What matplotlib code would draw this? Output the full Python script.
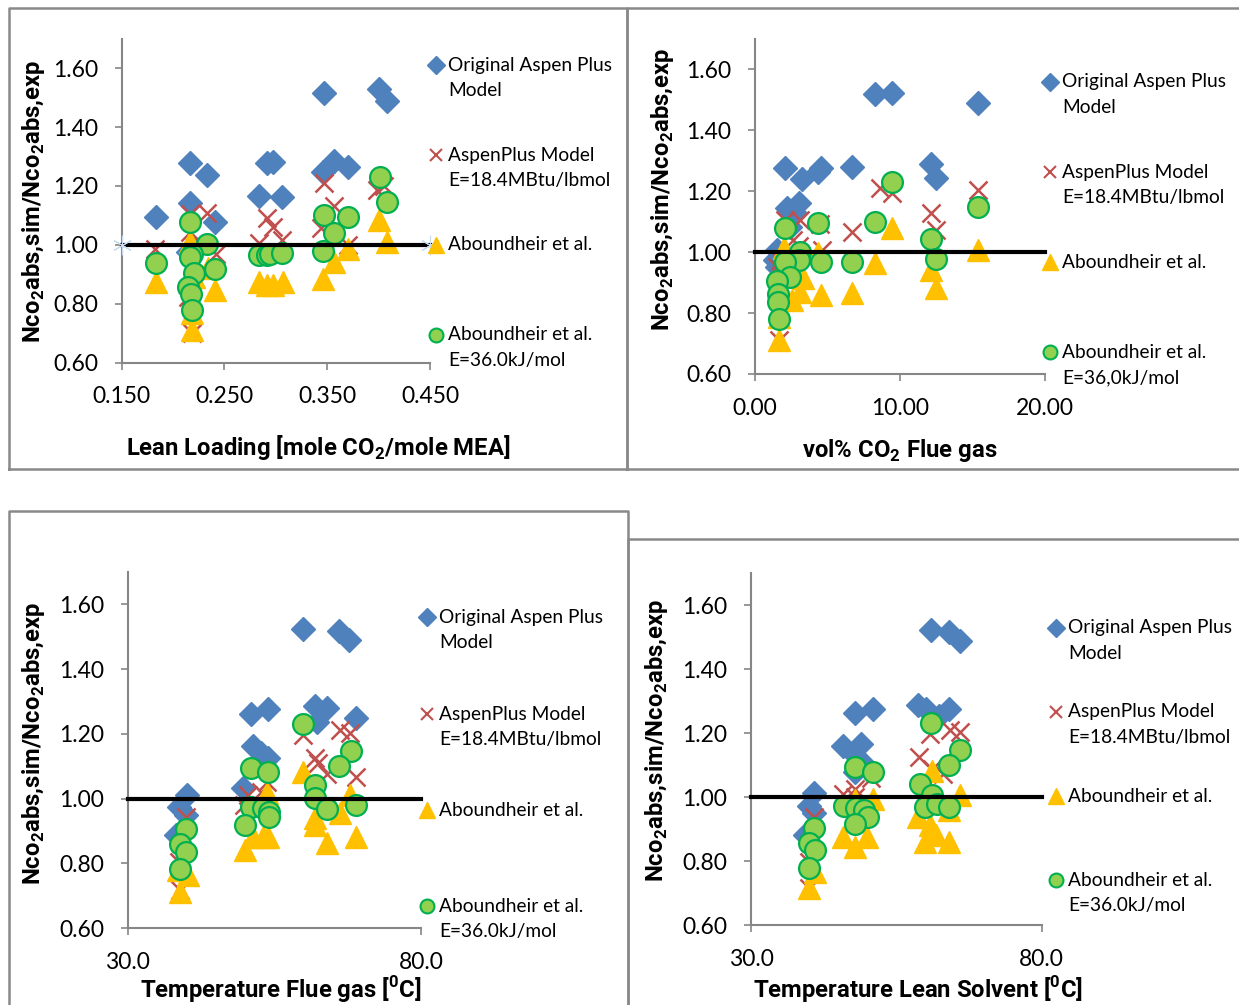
import matplotlib
matplotlib.use("Agg")
import matplotlib.pyplot as plt
from matplotlib.lines import Line2D

plt.rcParams['font.family'] = ['Lato', 'DejaVu Sans']
plt.rcParams['mathtext.fontset'] = 'custom'
plt.rcParams['mathtext.rm'] = 'Roboto:bold'
plt.rcParams['mathtext.bf'] = 'Roboto:bold'

W, H = 1239, 1005

# ---- data ----
# panel 1: lean loading
p1_orig_x = [0.183, 0.216, 0.233, 0.216, 0.241, 0.215, 0.219, 0.284, 0.291, 0.297, 0.306, 0.347, 0.400, 0.408, 0.346, 0.357, 0.370]
p1_orig_y = [1.096, 1.277, 1.238, 1.141, 1.079, 0.975, 0.995, 1.166, 1.277, 1.280, 1.162, 1.517, 1.529, 1.490, 1.246, 1.286, 1.263]
p1_asp_x = [0.182, 0.216, 0.233, 0.216, 0.242, 0.215, 0.218, 0.284, 0.291, 0.297, 0.306, 0.347, 0.357, 0.344, 0.370, 0.398, 0.405]
p1_asp_y = [0.985, 1.105, 1.107, 1.045, 0.970, 0.824, 0.700, 1.005, 1.090, 1.062, 1.017, 1.209, 1.132, 1.056, 1.000, 1.185, 1.200]
p1_abo_x = [0.183, 0.216, 0.218, 0.218, 0.241, 0.234, 0.220, 0.284, 0.291, 0.297, 0.307, 0.346, 0.357, 0.370, 0.400, 0.408]
p1_abo_y = [0.875, 1.010, 0.768, 0.710, 0.847, 0.920, 0.890, 0.875, 0.864, 0.864, 0.875, 0.883, 0.943, 0.985, 1.085, 1.011]
p1_abe_x = [0.183, 0.216, 0.233, 0.218, 0.216, 0.220, 0.241, 0.215, 0.217, 0.218, 0.284, 0.291, 0.294, 0.306, 0.347, 0.357, 0.370, 0.346, 0.401, 0.408]
p1_abe_y = [0.940, 1.079, 1.003, 0.970, 0.960, 0.906, 0.917, 0.858, 0.833, 0.779, 0.966, 0.966, 0.968, 0.971, 1.102, 1.042, 1.096, 0.980, 1.232, 1.147]

# panel 2: vol% CO2 flue gas
p2_orig_x = [2.07, 3.21, 4.36, 4.55, 6.66, 8.27, 9.41, 15.34, 12.1, 12.5, 2.18, 3.05, 2.76, 1.49, 1.38, 2.41, 1.50]
p2_orig_y = [1.277, 1.239, 1.264, 1.277, 1.281, 1.518, 1.523, 1.490, 1.288, 1.244, 1.144, 1.162, 1.127, 1.007, 0.974, 1.083, 0.950]
p2_asp_x = [8.61, 9.41, 6.66, 12.1, 12.5, 15.34, 3.10, 4.48, 4.60, 2.07, 1.72, 2.64, 1.68, 3.00, 1.50]
p2_asp_y = [1.209, 1.193, 1.067, 1.127, 1.073, 1.204, 1.105, 1.094, 1.007, 1.105, 0.974, 1.040, 0.710, 1.020, 0.950]
p2_abo_x = [9.41, 8.27, 6.66, 4.55, 15.34, 12.1, 12.5, 3.33, 3.10, 2.53, 2.02, 1.65, 1.65, 4.36, 1.80]
p2_abo_y = [1.078, 0.963, 0.865, 0.859, 1.007, 0.941, 0.881, 0.914, 0.870, 0.843, 1.012, 0.788, 0.712, 0.996, 0.870]
p2_abe_x = [2.07, 4.36, 9.41, 8.27, 6.66, 4.55, 12.1, 12.5, 15.34, 3.10, 3.00, 2.07, 2.41, 1.54, 1.61, 1.61, 1.68]
p2_abe_y = [1.080, 1.097, 1.229, 1.100, 0.967, 0.967, 1.042, 0.977, 1.149, 1.002, 0.974, 0.969, 0.917, 0.906, 0.863, 0.835, 0.779]

# panel 3: temperature flue gas
p3_orig_x = [40.1, 38.8, 39.9, 38.2, 51.1, 54.0, 51.4, 52.8, 54.0, 49.7, 59.9, 66.1, 67.8, 61.9, 63.9, 62.2, 69.0]
p3_orig_y = [1.012, 0.973, 0.950, 0.888, 1.262, 1.276, 1.163, 1.142, 1.125, 1.033, 1.523, 1.519, 1.490, 1.286, 1.280, 1.238, 1.248]
p3_asp_x = [59.9, 61.9, 62.5, 63.9, 66.2, 67.9, 69.0, 50.5, 52.8, 53.8, 39.9, 38.8, 38.9, 49.9]
p3_asp_y = [1.197, 1.125, 1.109, 1.076, 1.212, 1.202, 1.068, 1.010, 1.020, 1.050, 0.945, 0.806, 0.718, 0.980]
p3_abo_x = [59.9, 61.9, 61.9, 63.9, 66.2, 67.9, 69.0, 50.0, 51.4, 53.1, 54.0, 53.7, 38.9, 40.3, 38.6]
p3_abo_y = [1.083, 0.940, 0.920, 0.862, 0.955, 1.012, 0.883, 0.842, 0.883, 0.883, 0.883, 1.017, 0.713, 0.765, 0.780]
p3_abe_x = [39.9, 38.9, 39.9, 38.9, 51.0, 54.0, 51.0, 53.1, 54.1, 54.1, 50.0, 59.9, 68.0, 66.1, 61.9, 61.9, 64.0, 69.0]
p3_abe_y = [0.908, 0.859, 0.836, 0.782, 1.096, 1.081, 0.973, 0.970, 0.960, 0.943, 0.919, 1.231, 1.148, 1.101, 1.042, 1.001, 0.968, 0.980]

# panel 4: temperature lean solvent
p4_orig_x = [40.8, 39.9, 40.8, 39.3, 47.9, 50.9, 45.9, 49.0, 47.6, 49.6, 47.9, 61.0, 64.0, 66.0, 58.8, 60.1, 64.0, 62.4]
p4_orig_y = [1.013, 0.974, 0.951, 0.881, 1.262, 1.277, 1.161, 1.166, 1.137, 1.100, 1.078, 1.524, 1.516, 1.488, 1.288, 1.277, 1.277, 1.255]
p4_asp_x = [64.2, 66.0, 60.8, 58.9, 61.1, 63.1, 45.9, 47.9, 50.7, 47.9, 40.8, 39.9, 39.9]
p4_asp_y = [1.211, 1.203, 1.197, 1.125, 1.089, 1.073, 1.010, 1.025, 1.060, 1.000, 0.938, 0.798, 0.715]
p4_abo_x = [61.1, 66.0, 58.8, 60.8, 61.9, 60.0, 64.0, 50.9, 45.9, 47.9, 49.9, 47.9, 39.9, 41.0, 64.0]
p4_abo_y = [1.083, 1.006, 0.938, 0.912, 0.881, 0.860, 0.860, 0.995, 0.876, 0.845, 0.876, 0.990, 0.715, 0.767, 0.960]
p4_abe_x = [40.8, 39.9, 41.0, 39.9, 47.9, 50.9, 46.0, 48.1, 49.4, 50.2, 47.9, 61.0, 66.0, 64.0, 59.0, 61.1, 59.9, 62.0, 64.0]
p4_abe_y = [0.905, 0.858, 0.834, 0.780, 1.096, 1.080, 0.972, 0.967, 0.961, 0.938, 0.917, 1.231, 1.148, 1.101, 1.042, 1.006, 0.969, 0.980, 0.969]

# axis ticks
y_ticks = [0.6, 0.8, 1.0, 1.2, 1.4, 1.6]
p1_ticks = [0.15, 0.25, 0.35, 0.45]
p2_ticks = [0.0, 10.0, 20.0]
p3_ticks = [30.0, 80.0]
p4_ticks = [30.0, 80.0]

ylab = r'Nco$_\mathbf{2}$abs,sim/Nco$_\mathbf{2}$abs,exp'

BLUE = '#4F81BD'
RED = '#C0504D'
YEL = '#FFC000'
GFILL = '#92D050'
GEDGE = '#00B050'
AXC = '#868686'


def fx(px):
    return px / W


def fy(py):
    return 1 - py / H


def make_ax(l, r, t, b):
    return fig.add_axes([fx(l), fy(b), fx(r) - fx(l), fy(t) - fy(b)])


def draw(ax, xlim, ticks, fmt, series, stars=False):
    ox, oy, ax_, ay, bx, by, cx, cy = series
    ax.plot(ox, oy, 'D', ms=12, color=BLUE, ls='none', zorder=2)
    ax.plot(ax_, ay, 'x', ms=13, mew=1.8, color=RED, ls='none', zorder=3)
    ax.plot(bx, by, '^', ms=15.5, color=YEL, ls='none', zorder=4)
    ax.plot(cx, cy, 'o', ms=15, mfc=GFILL, mec=GEDGE, mew=1.6, ls='none', zorder=5)
    ax.plot(xlim, [1.0, 1.0], color='black', lw=3, zorder=6,
            marker=(6, 2, 0) if stars else None, ms=14, mec='#C6DBEF', mew=0.8,
            clip_on=False)
    ax.set_xlim(xlim)
    ax.set_ylim(0.6, 1.7)
    ax.set_xticks(ticks)
    ax.set_xticklabels([fmt.format(t) for t in ticks])
    ax.set_yticks(y_ticks)
    ax.set_yticklabels(['{:.2f}'.format(t) for t in y_ticks])
    for s in ['top', 'right']:
        ax.spines[s].set_visible(False)
    for s in ['left', 'bottom']:
        ax.spines[s].set_color(AXC)
        ax.spines[s].set_linewidth(1.5)
    ax.tick_params(direction='out', length=5, width=1.2, color=AXC,
                   labelsize=16.5, pad=12)


def legend(x, ys, e2):
    entries = [('D', dict(color=BLUE, ms=9), ['Original Aspen Plus', 'Model']),
               ('x', dict(color=RED, ms=9, mew=1.5), ['AspenPlus Model', 'E=18.4MBtu/lbmol']),
               ('^', dict(color=YEL, ms=11), ['Aboundheir et al.']),
               ('o', dict(mfc=GFILL, mec=GEDGE, ms=10, mew=1.5), ['Aboundheir et al.', e2])]
    for (m, kw, lines), y in zip(entries, ys):
        fig.add_artist(Line2D([fx(x)], [fy(y)], marker=m, ls='none',
                              transform=fig.transFigure, **kw))
        for i, t in enumerate(lines):
            fig.text(fx(x + 12), fy(y + 25.5 * i), t, fontsize=13.8,
                     ha='left', va='center')


def box(l, t, r, b):
    fig.add_artist(Line2D([fx(l), fx(l), fx(r), fx(r), fx(l)],
                          [fy(b), fy(t), fy(t), fy(b), fy(b)],
                          color='#898989', lw=1.8, transform=fig.transFigure))


fig = plt.figure(figsize=(W / 100, H / 100), dpi=100)

box(9, 8, 627, 469)
box(627, 8, 1245, 469)
box(9, 511, 628, 1010)
box(628, 539, 1245, 1010)

ax1 = make_ax(121.7, 430, 38.7, 362.7)
draw(ax1, [0.15, 0.45], p1_ticks, '{:.3f}',
     (p1_orig_x, p1_orig_y, p1_asp_x, p1_asp_y, p1_abo_x, p1_abo_y, p1_abe_x, p1_abe_y), stars=True)
ax2 = make_ax(755, 1045.3, 38.9, 374)
draw(ax2, [0.0, 20.0], p2_ticks, '{:.2f}',
     (p2_orig_x, p2_orig_y, p2_asp_x, p2_asp_y, p2_abo_x, p2_abo_y, p2_abe_x, p2_abe_y))
ax3 = make_ax(127.7, 421, 571.9, 928.3)
draw(ax3, [30.0, 80.0], p3_ticks, '{:.1f}',
     (p3_orig_x, p3_orig_y, p3_asp_x, p3_asp_y, p3_abo_x, p3_abo_y, p3_abe_x, p3_abe_y))
ax4 = make_ax(751, 1041.7, 573.2, 925.3)
draw(ax4, [30.0, 80.0], p4_ticks, '{:.1f}',
     (p4_orig_x, p4_orig_y, p4_asp_x, p4_asp_y, p4_abo_x, p4_abo_y, p4_abe_x, p4_abe_y))

legend(436, [65, 155, 245, 335], 'E=36.0kJ/mol')
legend(1050, [82, 172, 262, 352], 'E=36,0kJ/mol')
legend(427, [617, 714, 810, 906], 'E=36.0kJ/mol')
legend(1056, [628, 712, 796, 880], 'E=36.0kJ/mol')

lab = dict(fontsize=17.2, fontweight='bold', family=['Roboto', 'DejaVu Sans'])
fig.text(fx(318), fy(447), r'Lean Loading [mole CO$_\mathbf{2}$/mole MEA]', ha='center', va='center', **lab)
fig.text(fx(900), fy(450), r'vol% CO$_\mathbf{2}$ Flue gas', ha='center', va='center', **lab)
fig.text(fx(281), fy(990), r'Temperature Flue gas [$^\mathbf{0}$C]', ha='center', va='center', **lab)
fig.text(fx(918), fy(990), r'Temperature Lean Solvent [$^\mathbf{0}$C]', ha='center', va='center', **lab)

fig.text(fx(34), fy(201), ylab, rotation=90, ha='center', va='center', **lab)
fig.text(fx(663), fy(189), ylab, rotation=90, ha='center', va='center', **lab)
fig.text(fx(34), fy(743), ylab, rotation=90, ha='center', va='center', **lab)
fig.text(fx(656), fy(740), ylab, rotation=90, ha='center', va='center', **lab)

fig.savefig('out.png', dpi=100)
